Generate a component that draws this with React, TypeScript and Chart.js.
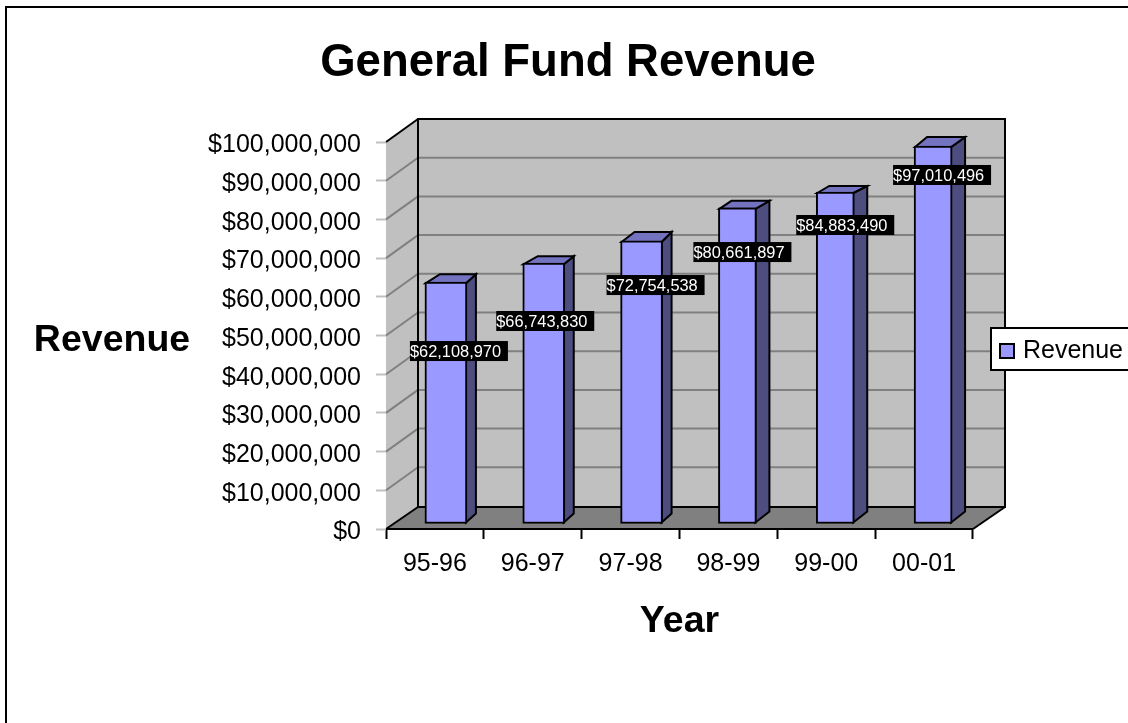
import React, { useEffect, useRef } from "react";
import { Chart, registerables } from "chart.js";

Chart.register(...registerables);

const years = ["95-96", "96-97", "97-98", "98-99", "99-00", "00-01"];
const revenue = [62108970, 66743830, 72754538, 80661897, 84883490, 97010496];
const seriesName = "Revenue";
const chartTitle = "General Fund Revenue";
const xAxisTitle = "Year";
const yAxisTitle = "Revenue";

// Where each data label sits relative to its category centre / value pixel.
const labelShiftX = [24, 12.5, 25, 14, 19, 18];
const labelShiftY = [62.4, 50.3, 37.6, 35.2, 24.5, 21.4];

// The reference's pseudo-3D rendering differs slightly from bar to bar.
const barFrontWidth = [42, 42, 42, 38, 38, 38];
const barTopNudge = [0, -1, 0, -2.5, -2, -1];
const barBackLeftDx = [14, 14, 13, 12, 12, 12];
const barBackRightDx = [10, 10, 10, 14, 14, 14];
const barTopDy = [9, 8, 10, 8, 7, 10];
const barBottomDy = [9, 9, 9, 11, 11, 11];

const FONT = "'Liberation Sans', Arial, sans-serif";
const money = (v: number) => "$" + Number(v).toLocaleString("en-US");

const WALL_DX = 32;
const WALL_DY = 23;
const BAR_SHIFT_X = 11;
const BAR_SHIFT_Y = -6.5;
const BAR_BASE_NUDGE = 1.5;

function poly(ctx: CanvasRenderingContext2D, pts: number[][], fill?: string, stroke?: string, lw = 2) {
  ctx.beginPath();
  pts.forEach(([x, y], i) => (i ? ctx.lineTo(x, y) : ctx.moveTo(x, y)));
  ctx.closePath();
  if (fill) {
    ctx.fillStyle = fill;
    ctx.fill();
  }
  if (stroke) {
    ctx.strokeStyle = stroke;
    ctx.lineWidth = lw;
    ctx.stroke();
  }
}

function line(ctx: CanvasRenderingContext2D, x1: number, y1: number, x2: number, y2: number, color: string, lw = 2) {
  ctx.beginPath();
  ctx.moveTo(x1, y1);
  ctx.lineTo(x2, y2);
  ctx.strokeStyle = color;
  ctx.lineWidth = lw;
  ctx.stroke();
}

const box3d = {
  id: "box3d",
  afterLayout(chart: any) {
    const t = chart.titleBlock;
    t.left = 8;
    t.right = 1128;
    const l = chart.legend;
    l.left = 991;
    l.right = 1123;
    l.top = 329.5;
    l.bottom = 371;
  },
  afterDatasetsUpdate(chart: any) {
    chart.getDatasetMeta(0).data.forEach((bar: any, i: number) => {
      const w = barFrontWidth[i];
      bar.x = bar.x - (bar.width - w) / 2;
      bar.width = w;
      bar.y = bar.y + barTopNudge[i];
      bar.base = bar.base + BAR_BASE_NUDGE;
      bar.height = bar.base - bar.y;
    });
  },
  beforeDraw(chart: any) {
    const { ctx, chartArea: a, scales } = chart;
    const y = scales.y;
    const { left: L, right: R, top: T, bottom: B } = a;
    ctx.save();
    ctx.fillStyle = "#ffffff";
    ctx.fillRect(0, 0, chart.width, chart.height);
    // outer frame (right and bottom edges fall outside the picture)
    ctx.strokeStyle = "#000";
    ctx.lineWidth = 2;
    ctx.strokeRect(6, 7, chart.width + 20, chart.height + 20);

    const dx = WALL_DX;
    const dy = WALL_DY;
    poly(ctx, [[L, T], [L + dx, T - dy], [L + dx, B - dy + 1], [L, B]], "#c0c0c0");
    poly(ctx, [[L + dx, T - dy], [R + dx, T - dy], [R + dx, B - dy + 1], [L + dx, B - dy + 1]], "#c0c0c0");
    poly(ctx, [[L, B], [L + dx, B - dy + 1], [R + dx, B - dy + 1], [R, B]], "#808080");

    y.ticks.forEach((tk: any) => {
      if (tk.value === 0 || tk.value === y.max) return;
      const p = y.getPixelForValue(tk.value);
      line(ctx, L, p, L + dx, p - dy, "#808080");
      line(ctx, L + dx, p - dy, R + dx, p - dy, "#808080");
    });

    // box edges
    line(ctx, L, T, L + dx, T - dy, "#000");
    line(ctx, L + dx, T - dy, R + dx, T - dy, "#000");
    line(ctx, L + dx, T - dy - 1, L + dx, B - dy + 2, "#000");
    line(ctx, R + dx, T - dy - 1, R + dx, B - dy + 2, "#000");
    line(ctx, L + dx, B - dy + 1, R + dx, B - dy + 1, "#000");
    line(ctx, L, B, L + dx, B - dy + 1, "#000");
    line(ctx, R, B, R + dx, B - dy + 1, "#000");
    line(ctx, L, B, R, B, "#000");

    // legend frame
    ctx.fillStyle = "#fff";
    ctx.fillRect(991, 328, 200, 42);
    ctx.strokeStyle = "#000";
    ctx.lineWidth = 2;
    ctx.strokeRect(991, 328, 200, 42);

    // horizontal value-axis title
    ctx.fillStyle = "#000";
    ctx.font = `bold 37.5px ${FONT}`;
    ctx.textAlign = "center";
    ctx.textBaseline = "middle";
    ctx.fillText(yAxisTitle, 112, 341);
    ctx.restore();
  },
  beforeDatasetsDraw(chart: any) {
    const { ctx } = chart;
    const meta = chart.getDatasetMeta(0);
    ctx.save();
    ctx.translate(BAR_SHIFT_X, BAR_SHIFT_Y);
    ctx.lineJoin = "miter";
    meta.data.forEach((bar: any, i: number) => {
      const l = bar.x - bar.width / 2 + 1;
      const r = bar.x + bar.width / 2 - 1;
      const t = bar.y + 1;
      const b = bar.base - 1;
      const dxL = barBackLeftDx[i];
      const dxR = barBackRightDx[i];
      const dyT = barTopDy[i];
      const dyB = barBottomDy[i];
      poly(ctx, [[r, t], [r + dxR, t - dyT], [r + dxR, b - dyB], [r, b]], "#4d4d80", "#000");
      poly(ctx, [[l, t], [l + dxL, t - dyT], [r + dxR, t - dyT], [r, t]], "#7373bf", "#000");
    });
    ctx.restore();
    ctx.save();
    ctx.translate(BAR_SHIFT_X, BAR_SHIFT_Y);
  },
  afterDatasetsDraw(chart: any) {
    const { ctx, scales } = chart;
    ctx.restore();
    ctx.save();
    ctx.font = `16.4px ${FONT}`;
    ctx.textBaseline = "middle";
    ctx.textAlign = "left";
    revenue.forEach((v: number, i: number) => {
      const w = 98;
      const h = 20;
      const cx = scales.x.getPixelForValue(i) + labelShiftX[i];
      const cy = scales.y.getPixelForValue(v) + labelShiftY[i];
      ctx.fillStyle = "#000";
      ctx.fillRect(cx - w / 2, cy - h / 2, w, h);
      ctx.fillStyle = "#fff";
      ctx.fillText(money(v), cx - w / 2, cy + 1.5);
    });
    ctx.restore();
  },
};

export default function App() {
  const ref = useRef<HTMLCanvasElement | null>(null);
  useEffect(() => {
    if (!ref.current) return;
    const chart = new Chart(ref.current, {
      type: "bar",
      data: {
        labels: years,
        datasets: [
          {
            label: seriesName,
            data: revenue,
            backgroundColor: "#9999ff",
            borderColor: "#000000",
            borderWidth: 2,
            borderSkipped: false,
            barThickness: 42,
            clip: false,
          },
        ],
      },
      plugins: [box3d],
      options: {
        responsive: false,
        animation: false,
        layout: { padding: { left: 0, top: 0, right: 9.43, bottom: 0 } },
        plugins: {
          tooltip: { enabled: false },
          title: {
            display: true,
            text: chartTitle,
            color: "#000",
            font: { family: FONT, size: 45.5, weight: "bold", lineHeight: 1.2 },
            padding: { top: 35.7, bottom: 51.7 },
          },
          legend: {
            display: true,
            position: "right",
            align: "start",
            labels: {
              color: "#000",
              font: { family: FONT, size: 25 },
              boxWidth: 14,
              boxHeight: 14,
              padding: 9,
              textAlign: "right",
            },
          },
        },
        scales: {
          x: {
            type: "category",
            afterFit: (s: any) => {
              s.height = 194;
            },
            grid: {
              drawOnChartArea: false,
              drawTicks: true,
              tickLength: 10,
              tickColor: "#000",
              tickWidth: 2,
            },
            border: { display: false },
            ticks: {
              color: "#000",
              font: { family: FONT, size: 25 },
              padding: 10,
              maxRotation: 0,
              autoSkip: false,
            },
            title: {
              display: true,
              text: xAxisTitle,
              color: "#000",
              font: { family: FONT, size: 37.5, weight: "bold", lineHeight: 1.2 },
              padding: { top: 0, bottom: 78.5 },
            },
          },
          y: {
            type: "linear",
            min: 0,
            max: 100000000,
            afterFit: (s: any) => {
              s.width = 386;
            },
            grid: {
              drawOnChartArea: false,
              drawTicks: true,
              tickLength: 10,
              tickColor: "#c0c0c0",
              tickWidth: 2,
            },
            border: { display: false },
            ticks: {
              stepSize: 10000000,
              color: "#000",
              font: { family: FONT, size: 25 },
              padding: 15,
              labelOffset: 3.5,
              callback: (v: any) => money(v),
            },
          },
        },
      },
    } as any);
    return () => chart.destroy();
  }, []);
  return (
    <canvas
      ref={ref}
      width={1128}
      height={723}
      style={{ position: "absolute", left: 0, top: 0, display: "block" }}
    />
  );
}
